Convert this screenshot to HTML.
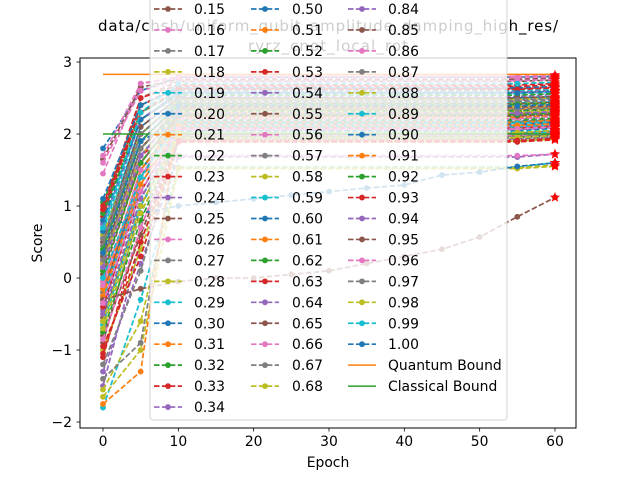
<!DOCTYPE html>
<html><head><meta charset="utf-8"><style>
html,body{margin:0;padding:0;background:#fff;}
svg text{font-family:"DejaVu Sans","Liberation Sans",sans-serif;}
</style></head><body>
<svg id="chart" width="640" height="480" xmlns="http://www.w3.org/2000/svg">
<rect width="640" height="480" fill="#fff"/>
<g id="title">
<text x="328" y="31" text-anchor="middle" font-size="15" textLength="460" fill="#000">data/chsh/uniform_qubit_amplitude_damping_high_res/</text>
<text x="328" y="51" text-anchor="middle" font-size="15" textLength="160" fill="#000">ryrz_cnot_local_rot</text>
</g>
<g id="plot"></g>
<rect x="80" y="58" width="496" height="370" fill="none" stroke="#000" stroke-width="1"/>
<g id="axes"></g>
<text x="328" y="467" text-anchor="middle" font-size="13.9">Epoch</text>
<text x="42" y="243" text-anchor="middle" font-size="13.9" transform="rotate(-90 42 243)">Score</text>
<g id="legend"></g>
</svg>
<script>
const XTICKS=[0,10,20,30,40,50,60];
const YTICKS=[-2,-1,0,1,2,3];
const EPOCHS_SHORT=[0,5,10,55,60];
const EPOCHS_ALL=[0,5,10,15,20,25,30,35,40,45,50,55,60];
const QUANTUM=2.828, CLASSICAL=2.0;
const S0=[0.45,-0.3,1.05,0.2,-1.5,0.9,0.1,-0.6,0.55,-1.8, 1.8,-0.2,0.3,-1.1,0.75,-0.9,1.45,-0.4,0.05,0.6, -0.7,0.35,-0.05,0.95,-1.3,1.65,-0.15,0.25,-1.65,0.4, 0.15,-0.5,0.8,-0.25,0.5,-0.8,1.7,0.0,-1.0,0.65, -0.35,0.2,-0.1,1.0,0.45,-0.55,0.3,-1.2,-1.55,0.7, 0.55,0.1,-0.75,0.85,-0.45,0.35,1.6,-0.2,0.6,-0.6, -0.3,0.25,0.9,-0.95,0.15,0.5,-0.05,-1.4,0.4,-0.65, 1.1,-0.15,0.3,-0.4,0.75,0.05,-0.85,0.45,0.2,-0.3, 0.65,-1.75,0.1,0.95,-0.5,0.3,-0.1,0.55,-0.7,0.0, 0.8,-0.25,0.4,-1.05,0.15,0.6,-0.35,0.25,-0.6,0.7, 0.35];
const E5=[1.9,1.4,2.3,1.7,0.5,2.5,1.6,1.1,2.0,-0.3, 2.6,1.3,1.8,0.7,2.2,1.0,2.7,1.5,1.2,2.1, 0.9,1.9,1.4,2.4,0.2,2.65,1.3,1.6,-1.0,2.0, 1.7,1.1,2.3,1.5,1.9,0.6,2.7,1.4,0.4,2.2, 1.2,1.8,1.5,2.5,2.0,1.0,1.7,0.1,-0.6,2.3, 2.1,1.6,0.8,2.4,1.3,1.9,2.6,1.4,2.0,1.1, 1.5,1.8,2.2,0.3,1.7,2.1,1.4,-0.9,1.9,1.0, 2.4,1.5,1.8,1.2,2.2,1.6,0.7,2.0,1.7,1.3, 2.1,-1.3,1.6,2.3,1.1,1.8,1.5,2.0,0.9,1.4, 2.2,1.3,1.9,0.5,1.7,2.1,1.2,1.8,1.0,2.3, 1.9];
const P=[2.18,1.97,2.58,2.08,1.9,2.73,2.28,2.02,2.43,1.54, 2.79,2.12,2.33,1.98,2.52,1.95,2.8,2.22,2.08,2.48, 1.94,2.38,2.17,2.63,1.68,2.76,2.1,2.27,1.52,2.43, 2.33,1.99,2.58,2.15,2.4,1.96,2.78,2.25,1.9,2.56, 2.05,2.36,2.2,2.68,2.46,2.01,2.3,1.93,1.53,2.6, 2.5,2.23,1.97,2.66,2.12,2.42,2.74,2.17,2.48,2.03, 2.13,2.34,2.54,1.89,2.28,2.5,2.21,1.97,2.38,2.0, 2.64,2.16,2.32,2.08,2.58,2.25,1.98,2.45,2.3,2.1, 1.55,2.28,2.27,2.62,2.06,2.37,1.7,2.47,1.95,2.15, 2.57,2.12,2.41,1.91,2.29,0.85,2.07,2.35,2.02,2.7, 2.39];
const F=[2.2,2.0,2.6,2.1,1.95,2.75,2.3,2.05,2.45,1.6, 2.8,2.15,2.35,2.0,2.55,1.98,2.82,2.25,2.1,2.5, 1.97,2.4,2.2,2.65,1.72,2.78,2.12,2.3,1.55,2.45, 2.35,2.02,2.6,2.18,2.42,1.99,2.8,2.28,1.93,2.58, 2.08,2.38,2.22,2.7,2.48,2.04,2.32,1.96,1.57,2.62, 2.52,2.26,2.0,2.68,2.14,2.44,2.76,2.2,2.5,2.06, 2.16,2.36,2.56,1.92,2.3,2.52,2.24,2.0,2.4,2.03, 2.66,2.19,2.34,2.11,2.6,2.27,2.01,2.47,2.33,2.13, 1.6,2.3,2.29,2.64,2.09,2.39,1.72,2.49,1.98,2.17, 2.59,2.14,2.43,1.94,2.31,1.12,2.1,2.37,2.05,2.72, 2.41];
const SLOW80=[0.65,0.9,1.0,1.05,1.1,1.15,1.2,1.25,1.29,1.43,1.47,1.55,1.6];
const SLOW95=[-0.3,-0.15,-0.05,0.0,0.0,0.05,0.1,0.2,0.3,0.4,0.57,0.85,1.12];
const COLORS=['#1f77b4','#ff7f0e','#2ca02c','#d62728','#9467bd','#8c564b','#e377c2','#7f7f7f','#bcbd22','#17becf'];
const NS='http://www.w3.org/2000/svg';
function xs(v){return 103+v*7.533;}
function ys(v){return 278-v*72;}
function mk(tag,attrs,parent){const e=document.createElementNS(NS,tag);for(const k in attrs)e.setAttribute(k,attrs[k]);parent.appendChild(e);return e;}
const plot=document.getElementById('plot');
const axes=document.getElementById('axes');
function star(cx,cy,r){let p=[];for(let k=0;k<10;k++){const a=-Math.PI/2+k*Math.PI/5;const rr=k%2?r*0.4:r;p.push((cx+rr*Math.cos(a)).toFixed(1)+','+(cy+rr*Math.sin(a)).toFixed(1));}return p.join(' ');}
const stars=[];
for(let i=0;i<S0.length;i++){
  let ex,vals;
  if(i===80){ex=EPOCHS_ALL;vals=SLOW80;}
  else if(i===95){ex=EPOCHS_ALL;vals=SLOW95;}
  else{ex=EPOCHS_SHORT;vals=[S0[i],E5[i],P[i],P[i],F[i]];}
  const c=COLORS[i%10];
  const g=mk('g',{},plot);
  
  
  const pts=ex.map((e,k)=>xs(e).toFixed(1)+','+ys(vals[k]).toFixed(1)).join(' ');
  mk('polyline',{points:pts,fill:'none',stroke:c,'stroke-width':1.7,'stroke-dasharray':'5.5,2.4'},g);
  ex.forEach((e,k)=>{const d=mk('circle',{cx:xs(e),cy:ys(vals[k]),r:2.9,fill:c},g);
    
    });
  stars.push([xs(ex[ex.length-1]),ys(vals[vals.length-1])]);
}
const q=mk('line',{x1:xs(0),x2:xs(60),y1:ys(QUANTUM),y2:ys(QUANTUM),stroke:'#ff7f0e','stroke-width':1.5},plot);


const cl=mk('line',{x1:xs(0),x2:xs(60),y1:ys(CLASSICAL),y2:ys(CLASSICAL),stroke:'#2ca02c','stroke-width':1.5},plot);


stars.forEach(s=>{const st=mk('polygon',{points:star(s[0],s[1],5.5),fill:'red'},plot);
  
  });
XTICKS.forEach(t=>{const x=xs(t);
  mk('line',{x1:x,x2:x,y1:428,y2:431.5,stroke:'#000','stroke-width':0.8},axes);
  const tx=mk('text',{x:x,y:446,'text-anchor':'middle','font-size':13.9},axes);tx.textContent=t;
  
  });
YTICKS.forEach(t=>{const y=ys(t);
  mk('line',{x1:76.5,x2:80,y1:y,y2:y,stroke:'#000','stroke-width':0.8},axes);
  const tx=mk('text',{x:72,y:y+5,'text-anchor':'end','font-size':13.9},axes);tx.textContent=(t<0?'\u2212':'')+Math.abs(t);
  
  });
const leg=document.getElementById('legend');
mk('rect',{x:150,y:-320,width:357,height:740,rx:3,fill:'#fff','fill-opacity':0.8,stroke:'#ccc','stroke-opacity':0.8},leg);
const labels=[];for(let i=0;i<=100;i++)labels.push((i/100).toFixed(2));labels.push('Quantum Bound','Classical Bound');
const colX=[[154,194],[251,292],[348,388]];
labels.forEach((lab,k)=>{
  const col=k<35?0:(k<69?1:2);const row=k<35?k:(k<69?k-35:k-69);
  const y=9+(row-15)*20.95;if(y<-15)return;
  const g=mk('g',{},leg);
  
  
  const [lx,tx]=colX[col];
  if(k<=100){const c=COLORS[k%10];
    mk('line',{x1:lx,x2:lx+28,y1:y,y2:y,stroke:c,'stroke-width':1.7,'stroke-dasharray':'5.5,2.4'},g);
    mk('circle',{cx:lx+14,cy:y,r:2.9,fill:c},g);}
  else{mk('line',{x1:lx,x2:lx+28,y1:y,y2:y,stroke:k===101?'#ff7f0e':'#2ca02c','stroke-width':1.5},g);}
  const t=mk('text',{x:tx,y:y+5,'font-size':13.9},g);t.textContent=lab;
});
</script>
</body></html>
